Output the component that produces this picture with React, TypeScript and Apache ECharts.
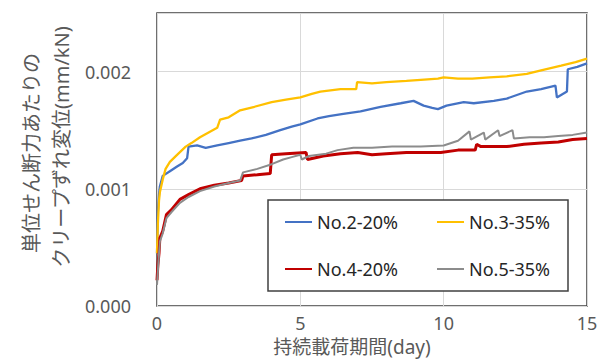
import React, { useEffect, useRef } from "react";
import * as echarts from "echarts";

const seriesNames = ["No.2-20%", "No.3-35%", "No.4-20%", "No.5-35%"];
const seriesColors = ["#4472C4", "#FFC000", "#C00000", "#8C8C8C"];
const seriesWidths = [2.3, 2.3, 3, 2];

const xTicks = [0, 5, 10, 15];
const yTickLabels = ["0.000", "0.001", "0.002"];

const no2: [number, number][] = [
  [0, 0.00045], [0.03, 0.0008], [0.07, 0.00095], [0.1, 0.00102], [0.2, 0.00111],
  [0.45, 0.00115], [0.7, 0.00119], [0.9, 0.00122], [1.05, 0.00126], [1.1, 0.00136],
  [1.4, 0.00137], [1.7, 0.00135], [2.1, 0.00137], [2.5, 0.00139], [2.9, 0.00141],
  [3.3, 0.00143], [3.8, 0.00146], [4.3, 0.0015], [4.7, 0.00153], [5.0, 0.00155],
  [5.6, 0.0016], [6.0, 0.00162], [6.5, 0.00164], [7.1, 0.00166], [7.8, 0.0017],
  [8.5, 0.00173], [8.95, 0.00175], [9.3, 0.00171], [9.6, 0.00169], [9.8, 0.00168],
  [10.1, 0.00171], [10.7, 0.00174], [11.05, 0.00173], [11.75, 0.00175], [12.2, 0.00177],
  [12.9, 0.00183], [13.4, 0.00185], [13.9, 0.00188], [13.95, 0.00178], [14.3, 0.00183],
  [14.33, 0.00202], [14.66, 0.00204], [15.0, 0.00207],
];

const no3: [number, number][] = [
  [0, 0.00045], [0.03, 0.0007], [0.07, 0.0009], [0.1, 0.00097], [0.2, 0.00108],
  [0.3, 0.00117], [0.45, 0.00123], [0.7, 0.00129], [1.0, 0.00136], [1.2, 0.00139],
  [1.5, 0.00144], [1.8, 0.00148], [2.1, 0.00152], [2.2, 0.00159], [2.5, 0.00161],
  [2.9, 0.00167], [3.4, 0.0017], [4.0, 0.00174], [4.5, 0.00176], [5.0, 0.00178],
  [5.4, 0.00181], [5.7, 0.00183], [6.4, 0.00185], [6.95, 0.00185], [6.98, 0.00191],
  [7.5, 0.0019], [8.0, 0.00191], [8.7, 0.00192], [9.2, 0.00193], [9.8, 0.00194],
  [10.0, 0.00195], [10.5, 0.00194], [11.0, 0.00194], [11.6, 0.00195], [12.2, 0.00196],
  [12.9, 0.00198], [13.4, 0.00201], [14.1, 0.00205], [14.6, 0.00208], [15.0, 0.00211],
];

const no4: [number, number][] = [
  [0, 0.00022], [0.03, 0.00035], [0.07, 0.00045], [0.1, 0.00058], [0.2, 0.00064],
  [0.33, 0.00078], [0.5, 0.00082], [0.8, 0.00091], [1.1, 0.00095], [1.5, 0.001],
  [2.0, 0.00103], [2.5, 0.00105], [2.95, 0.00107], [3.0, 0.00111], [3.5, 0.00112],
  [3.95, 0.00113], [4.0, 0.00129], [4.5, 0.0013], [5.2, 0.00131], [5.25, 0.00125],
  [5.8, 0.00128], [6.4, 0.0013], [7.0, 0.00131], [7.5, 0.00129], [8.0, 0.0013],
  [8.7, 0.00131], [9.3, 0.00131], [9.9, 0.00131], [10.5, 0.00133], [11.1, 0.00133],
  [11.15, 0.00138], [11.3, 0.00136], [12.2, 0.00136], [12.8, 0.00138], [13.4, 0.00139],
  [14.0, 0.0014], [14.5, 0.00142], [15.0, 0.00143],
];

const no5: [number, number][] = [
  [0, 0.00018], [0.03, 0.0003], [0.07, 0.00045], [0.1, 0.00055], [0.2, 0.00062],
  [0.33, 0.00075], [0.5, 0.0008], [0.8, 0.00088], [1.1, 0.00093], [1.5, 0.00098],
  [2.0, 0.00102], [2.5, 0.00105], [2.9, 0.00107], [3.0, 0.00114], [3.5, 0.00117],
  [4.0, 0.00121], [4.4, 0.00125], [4.7, 0.00127], [5.0, 0.00129], [5.05, 0.00125],
  [5.3, 0.00128], [5.9, 0.0013], [6.3, 0.00133], [6.85, 0.00135], [7.5, 0.00135],
  [8.2, 0.00136], [9.2, 0.00136], [10.0, 0.00137], [10.5, 0.00141], [10.9, 0.00149],
  [10.95, 0.00142], [11.4, 0.00148], [11.45, 0.00142], [11.9, 0.0015], [11.95, 0.00145],
  [12.4, 0.0015], [12.45, 0.00143], [13.0, 0.00144], [13.5, 0.00144], [14.0, 0.00145],
  [14.5, 0.00146], [15.0, 0.00148],
];

const seriesData = [no2, no3, no4, no5];

const yTitleLines = ["単位せん断力あたりの", "クリープずれ変位(mm/kN)"];
const xTitle = "持続載荷期間(day)";

const FONT = '"Noto Sans", "Noto Sans CJK JP", sans-serif';

export default function App() {
  const ref = useRef<HTMLDivElement>(null);
  useEffect(() => {
    if (!ref.current) return;
    const chart = echarts.init(ref.current, undefined, { renderer: "svg" });
    const legendPos = [
      { left: 285, top: 212 },
      { left: 437, top: 212 },
      { left: 285, top: 259 },
      { left: 437, top: 259 },
    ];
    chart.setOption({
      animation: false,
      backgroundColor: "#ffffff",
      textStyle: { fontFamily: FONT },
      grid: {
        left: 157,
        right: 19,
        top: 13,
        bottom: 55,
        show: true,
        borderColor: "#404040",
        borderWidth: 1.5,
        outerBoundsMode: "none",
      },
      xAxis: {
        type: "value",
        min: xTicks[0],
        max: xTicks[xTicks.length - 1],
        interval: 5,
        axisLine: { show: false },
        axisTick: { show: false },
        splitLine: { lineStyle: { color: "#d9d9d9", width: 1 } },
        axisLabel: { color: "#595959", fontSize: 18, margin: 8, lineHeight: 18, fontFamily: FONT },
      },
      yAxis: {
        type: "value",
        min: 0,
        max: 0.0025,
        interval: 0.001,
        axisLine: { show: false },
        axisTick: { show: false },
        splitLine: { lineStyle: { color: "#d9d9d9", width: 1 } },
        axisLabel: {
          color: "#595959",
          fontSize: 18,
          margin: 26,
          fontFamily: FONT,
          showMaxLabel: false,
          formatter: (v: number) => {
            const i = Math.round(v / 0.001);
            return yTickLabels[i] ?? "";
          },
        },
      },
      legend: seriesNames.map((n, i) => ({
        data: [n],
        left: legendPos[i].left,
        top: legendPos[i].top,
        padding: 0,
        icon: "rect",
        itemWidth: 27,
        itemHeight: 2,
        z: 10,
        textStyle: { fontSize: 18, color: "#262626", fontFamily: FONT, lineHeight: 20 },
      })),
      graphic: [
        {
          type: "rect",
          z: 3,
          shape: { x: 268, y: 200, width: 300, height: 91 },
          style: { fill: "#ffffff", stroke: "#404040", lineWidth: 1.5 },
        },
        {
          type: "text",
          x: 31,
          y: 153,
          rotation: Math.PI / 2,
          style: {
            text: yTitleLines[0],
            font: `20px ${FONT}`,
            fill: "#595959",
            textAlign: "center",
            textVerticalAlign: "middle",
          },
        },
        {
          type: "text",
          x: 61,
          y: 147,
          rotation: Math.PI / 2,
          style: {
            text: yTitleLines[1],
            font: `20px ${FONT}`,
            fill: "#595959",
            textAlign: "center",
            textVerticalAlign: "middle",
          },
        },
        {
          type: "text",
          x: 352,
          y: 347,
          style: {
            text: xTitle,
            font: `19px ${FONT}`,
            lineHeight: 19,
            fill: "#595959",
            textAlign: "center",
            textVerticalAlign: "middle",
          },
        },
      ],
      series: seriesNames.map((n, i) => ({
        name: n,
        type: "line",
        data: seriesData[i],
        showSymbol: false,
        symbol: "none",
        color: seriesColors[i],
        lineStyle: { color: seriesColors[i], width: seriesWidths[i] },
        z: 2 + i,
      })),
    });
    return () => chart.dispose();
  }, []);
  return (
    <div
      ref={ref}
      style={{ position: "fixed", left: 0, top: 0, width: 606, height: 361 }}
    />
  );
}
